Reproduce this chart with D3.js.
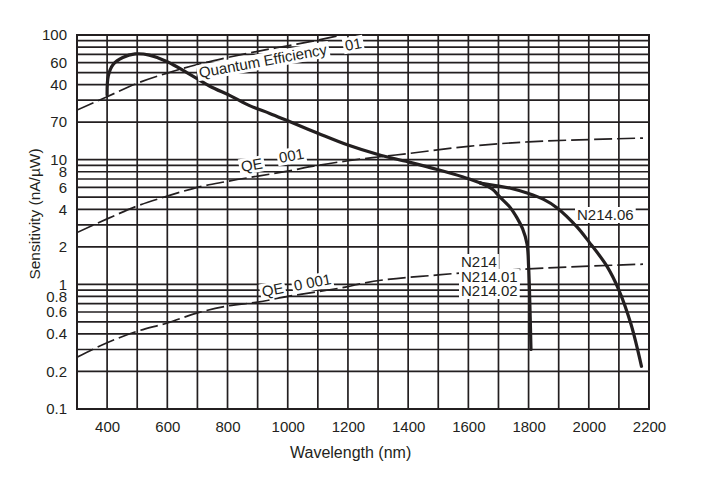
<!DOCTYPE html>
<html>
<head>
<meta charset="utf-8">
<script src="https://cdn.jsdelivr.net/npm/d3@7"></script>
<style>
  body { margin: 0; background: #fff; }
  svg text { font-family: "Liberation Sans", Arial, sans-serif; fill: #231f20; white-space: pre; }
</style>
</head>
<body>
<svg id="chart" width="704" height="477"></svg>
<script>
// x axis (nm)
var xTicks = [400, 600, 800, 1000, 1200, 1400, 1600, 1800, 2000, 2200];
// y axis ticks, labels as printed on the sheet
var yTicks = [100, 60, 40, 20, 10, 8, 6, 4, 2, 1, 0.8, 0.6, 0.4, 0.2, 0.1];
var yTickLabels = ['100', '60', '40', '70', '10', '8', '6', '4', '2', '1', '0.8', '0.6', '0.4', '0.2', '0.1'];

// common part of the sensitivity curve
var baseWave = [400, 404, 420, 452, 493, 540, 600, 665, 740, 810, 875, 940, 1000, 1100, 1200, 1300, 1400, 1500, 1580, 1640];
var baseSens = [33, 47, 58, 66, 70.5, 69, 61, 50, 39, 32.5, 27, 23.5, 20.5, 16.3, 13.1, 11, 9.6, 8.3, 7.3, 6.5];

// N214 / N214.01 / N214.02 tail
var n214Wave = [1640, 1680, 1705, 1740, 1762, 1780, 1795, 1800, 1803, 1808];
var n214Sens = [6.5, 5.8, 5.0, 4.1, 3.4, 2.8, 2.1, 1.4, 0.9, 0.3];

// N214.06 tail
var n21406Wave = [1640, 1690, 1740, 1795, 1850, 1895, 1960, 2000, 2060, 2100, 2140, 2175];
var n21406Sens = [6.5, 6.2, 5.9, 5.4, 4.8, 4.1, 2.9, 2.2, 1.4, 0.9, 0.48, 0.22];

// quantum efficiency reference lines
var qe1Wave = [300, 400, 500, 600, 700, 800, 900, 1000, 1100, 1180];
var qe1Sens = [25, 32, 41, 49.5, 58, 66, 74, 82, 91, 100];
var qe01Wave = [300, 400, 500, 600, 700, 800, 1000, 1100, 1200, 1300, 1400, 1600, 1800, 2000, 2180];
var qe01Sens = [2.6, 3.35, 4.25, 5.1, 6.0, 6.7, 8.1, 9.0, 9.8, 10.5, 11.2, 12.8, 13.9, 14.5, 14.9];
var qe001Wave = [300, 400, 500, 600, 700, 800, 900, 1000, 1200, 1250, 1500, 1800, 2000, 2180];
var qe001Sens = [0.26, 0.34, 0.42, 0.49, 0.59, 0.67, 0.72, 0.8, 0.96, 1.02, 1.19, 1.33, 1.4, 1.45];

var ink = '#231f20';
var svg = d3.select('#chart');
var pLeft = 77, pRight = 649, pTop = 35, pBottom = 409;

var x = d3.scaleLinear().domain([300, 2200]).range([pLeft, pRight]);
var y = d3.scaleLog().domain([0.1, 100]).range([pBottom, pTop]);

function zip(w, s) {
  return w.map(function(d, i) { return [d, s[i]]; });
}

// grid
var vLines = d3.range(300, 2201, 100);
var hLines = [];
[0.1, 1, 10].forEach(function(dec) {
  for (var k = 1; k < 10; k++) hLines.push(dec * k);
});
hLines.push(100);

var grid = svg.append('g');
grid.selectAll('line.v').data(vLines).enter().append('line')
  .attr('x1', function(d) { return x(d); }).attr('x2', function(d) { return x(d); })
  .attr('y1', pTop).attr('y2', pBottom)
  .attr('stroke', ink).attr('stroke-width', 1.7);
grid.selectAll('line.h').data(hLines).enter().append('line')
  .attr('x1', pLeft).attr('x2', pRight)
  .attr('y1', function(d) { return y(d); }).attr('y2', function(d) { return y(d); })
  .attr('stroke', ink).attr('stroke-width', 1.7);
grid.append('rect')
  .attr('x', pLeft).attr('y', pTop).attr('width', pRight - pLeft).attr('height', pBottom - pTop)
  .attr('fill', 'none').attr('stroke', ink).attr('stroke-width', 2);

// axes
var xAxis = d3.axisBottom(x).tickValues(xTicks).tickSize(0).tickPadding(12).tickFormat(d3.format('d'));
svg.append('g').attr('transform', 'translate(0,' + pBottom + ')').call(xAxis)
  .call(function(g) { g.select('.domain').remove(); })
  .selectAll('text').style('font-size', '15px').attr('fill', ink);

var yAxis = d3.axisLeft(y).tickValues(yTicks).tickSize(0).tickPadding(10)
  .tickFormat(function(d, i) { return yTickLabels[i]; });
svg.append('g').attr('transform', 'translate(' + pLeft + ',0)').call(yAxis)
  .call(function(g) { g.select('.domain').remove(); })
  .selectAll('text').style('font-size', '15px').attr('fill', ink);

svg.append('text').attr('x', 290).attr('y', 458)
  .style('font-size', '16px').text('Wavelength (nm)');
svg.append('text').attr('transform', 'translate(40,214) rotate(-90)').attr('text-anchor', 'middle')
  .style('font-size', '15.5px').text('Sensitivity (nA/\u00b5W)');

svg.append('clipPath').attr('id', 'plot').append('rect')
  .attr('x', pLeft).attr('y', pTop).attr('width', pRight - pLeft).attr('height', pBottom - pTop);

var line = d3.line()
  .x(function(d) { return x(d[0]); })
  .y(function(d) { return y(d[1]); })
  .curve(d3.curveMonotoneX);

var plot = svg.append('g').attr('clip-path', 'url(#plot)');

// QE lines, dashed
[[qe1Wave, qe1Sens], [qe01Wave, qe01Sens], [qe001Wave, qe001Sens]].forEach(function(s) {
  plot.append('path').datum(zip(s[0], s[1])).attr('d', line)
    .attr('fill', 'none').attr('stroke', ink).attr('stroke-width', 1.7)
    .attr('stroke-dasharray', '18,5');
});

// sensitivity curves
var thick = d3.line()
  .x(function(d) { return x(d[0]); })
  .y(function(d) { return y(d[1]); })
  .curve(d3.curveCatmullRom);
[[baseWave, baseSens], [n214Wave, n214Sens], [n21406Wave, n21406Sens]].forEach(function(s) {
  plot.append('path').datum(zip(s[0], s[1])).attr('d', thick)
    .attr('fill', 'none').attr('stroke', ink).attr('stroke-width', 3.2)
    .attr('stroke-linecap', 'round');
});

// labels with white boxes
function label(txt, px, py, rot) {
  var g = svg.append('g').attr('transform', 'translate(' + px + ',' + py + ') rotate(' + rot + ')');
  var t = g.append('text').style('font-size', '15px').text(txt);
  var b = t.node().getBBox();
  g.insert('rect', 'text').attr('x', b.x - 2).attr('y', b.y + 1).attr('width', b.width + 4).attr('height', b.height - 1)
    .attr('fill', '#fff');
}
label('Quantum Efficiency', 200, 78, -10.5);
label('01', 346, 51, -10.5);
label('QE', 242, 172, -10);
label('001', 280, 163, -10);
label('QE', 263, 297, -11);
label('0 001', 295, 291, -11);
label('N214', 461, 267, 0);
label('N214.01', 461, 282, 0);
label('N214.02', 461, 296, 0);
label('N214.06', 577, 220, 0);
</script>
</body>
</html>
